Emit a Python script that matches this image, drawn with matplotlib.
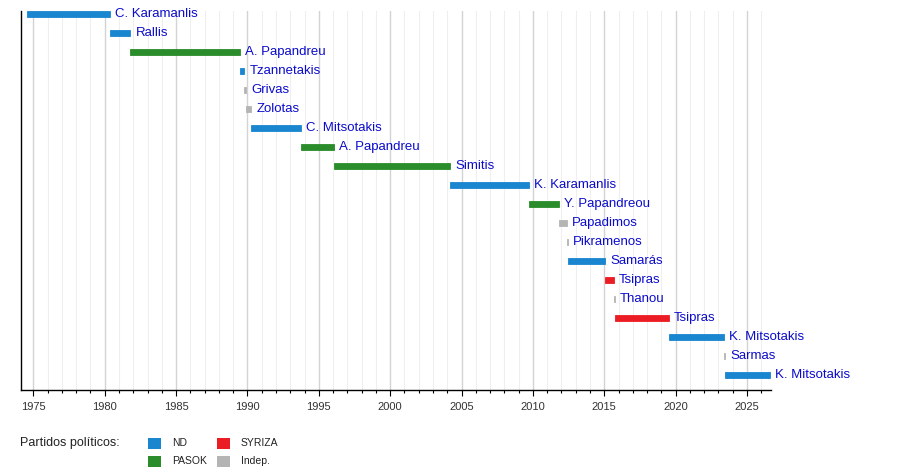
"""Timeline of Greek prime ministers since 1974, coloured by party."""

import datetime as dt

import matplotlib

matplotlib.use("Agg")

import matplotlib.pyplot as plt
from matplotlib.patches import Rectangle
from matplotlib.ticker import MultipleLocator

plt.rcParams["font.family"] = ["Liberation Sans", "DejaVu Sans"]

# --- data -------------------------------------------------------------------
names = ["C. Karamanlis", "Rallis", "A. Papandreu", "Tzannetakis", "Grivas",
         "Zolotas", "C. Mitsotakis", "A. Papandreu", "Simitis", "K. Karamanlis",
         "Y. Papandreou", "Papadimos", "Pikramenos", "Samarás", "Tsipras",
         "Thanou", "Tsipras", "K. Mitsotakis", "Sarmas", "K. Mitsotakis"]
starts = ["1974-07-24", "1980-05-10", "1981-10-21", "1989-07-02", "1989-10-12",
          "1989-11-23", "1990-04-11", "1993-10-13", "1996-01-22", "2004-03-10",
          "2009-10-06", "2011-11-11", "2012-05-16", "2012-06-20", "2015-01-26",
          "2015-08-27", "2015-09-21", "2019-07-08", "2023-05-25", "2023-06-26"]
ends = ["1980-05-10", "1981-10-21", "1989-07-02", "1989-10-12", "1989-11-23",
        "1990-04-11", "1993-10-13", "1996-01-22", "2004-03-10", "2009-10-06",
        "2011-11-11", "2012-05-16", "2012-06-20", "2015-01-26", "2015-08-27",
        "2015-09-21", "2019-07-08", "2023-05-25", "2023-06-26", "2026-08-24"]
parties = ["ND", "ND", "PASOK", "ND", "Indep.", "Indep.", "ND", "PASOK", "PASOK",
           "ND", "PASOK", "Indep.", "Indep.", "ND", "SYRIZA", "Indep.", "SYRIZA",
           "ND", "Indep.", "ND"]

party_order = ["ND", "PASOK", "SYRIZA", "Indep."]
PARTY_COLORS = {"ND": "#1a86d0", "PASOK": "#2a8c2a",
                "SYRIZA": "#ec1c24", "Indep.": "#b4b4b4"}

X_MIN, X_MAX = 1974.1, 2026.65
LABEL_COLOR = "#0b0bcc"


def to_year(s):
    d = dt.date.fromisoformat(s)
    y0 = dt.date(d.year, 1, 1)
    n = (dt.date(d.year + 1, 1, 1) - y0).days
    return d.year + (d - y0).days / n


# --- figure -----------------------------------------------------------------
W, H = 900, 470
fig = plt.figure(figsize=(W / 100, H / 100), dpi=100)
ax = fig.add_axes([20.5 / W, 80 / H, 750 / W, 379 / H])

for i, (name, s, e, p) in enumerate(zip(names, starts, ends, parties)):
    x0, x1 = to_year(s), to_year(e)
    ax.barh(i, x1 - x0, left=x0, height=0.29, color=PARTY_COLORS[p],
            edgecolor=PARTY_COLORS[p], linewidth=0.6, zorder=3)
    ax.annotate(name, (x1, i), xytext=(5, 0), textcoords="offset pixels",
                ha="left", va="center", fontsize=9.5, color=LABEL_COLOR,
                annotation_clip=False, zorder=4)

ax.set_xlim(X_MIN, X_MAX)
ax.set_ylim(19.79, -0.16)
ax.set_yticks([])

ax.xaxis.set_major_locator(MultipleLocator(5))
ax.xaxis.set_minor_locator(MultipleLocator(1))
ax.tick_params(axis="x", which="major", length=4, width=0.8, pad=5,
               labelsize=8, labelcolor="#333333", color="black")
ax.tick_params(axis="x", which="minor", length=2.2, width=0.8, color="black")
ax.grid(True, axis="x", which="major", color="#d3d3d3", linewidth=1.0, zorder=0)
ax.grid(True, axis="x", which="minor", color="#efefef", linewidth=0.8, zorder=0)

for side in ("top", "right"):
    ax.spines[side].set_visible(False)
for side in ("left", "bottom"):
    ax.spines[side].set_color("black")
    ax.spines[side].set_linewidth(1.0)

# --- party legend -----------------------------------------------------------
fig.text(20 / W, 1 - 443 / H, "Partidos políticos:", fontsize=9,
         color="#222222", ha="left", va="center")
legend_x = [148, 148, 217, 217]
legend_y = [443.5, 461.5, 443.5, 461.5]
for p, lx, ly in zip(party_order, legend_x, legend_y):
    fig.patches.append(Rectangle((lx / W, 1 - (ly + 5.5) / H), 13 / W, 11 / H,
                                 transform=fig.transFigure,
                                 facecolor=PARTY_COLORS[p], edgecolor="none"))
    fig.text((lx + 24) / W, 1 - ly / H, p, fontsize=7.5, color="#222222",
             ha="left", va="center")

fig.savefig("out.png", dpi=100)
